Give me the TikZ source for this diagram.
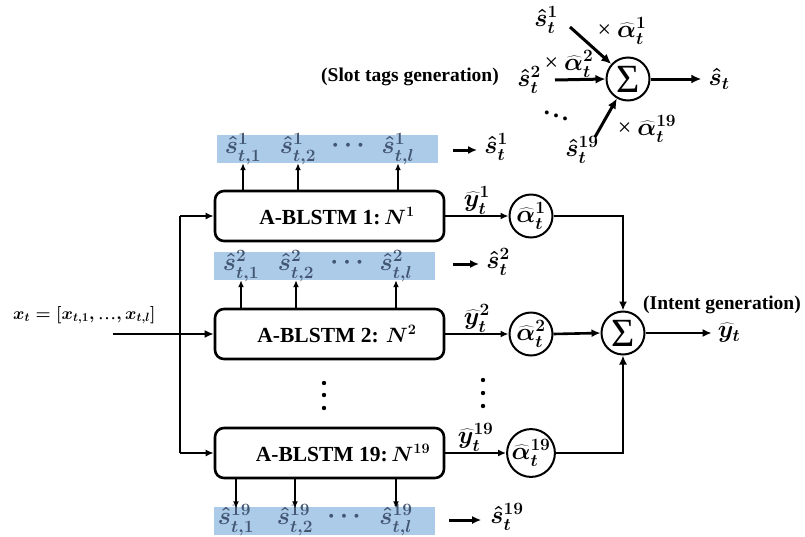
\documentclass[tikz,border=0pt]{standalone}
\usepackage{fontspec}
\setmainfont{Liberation Serif}
\usetikzlibrary{arrows.meta}
\definecolor{bandblue}{RGB}{172,203,233}
\definecolor{bandtext}{RGB}{66,86,114}
\newcommand{\mytimes}{{\mdseries ×}}
\newcommand{\mysig}{{\fontsize{40}{40}\selectfont\mdseries Σ}}
\newcommand{\myell}{\mbox{\mdseries …}}
\tikzset{
  blstm/.style={draw, line width=2.6pt, rounded corners=9pt, minimum width=229pt, minimum height=50pt, inner sep=0pt, font=\fontsize{21.5}{25}\selectfont\bfseries\boldmath},
  band/.style={fill=bandblue, minimum width=221pt, minimum height=28pt, inner sep=0pt},
  bitem/.style={text=bandtext, inner sep=1pt, font=\fontsize{24}{26}\selectfont\bfseries\boldmath},
  alph/.style={circle, draw, line width=2pt, minimum size=43pt, inner sep=0pt, font=\fontsize{23}{24}\selectfont\bfseries\boldmath},
  sig/.style={circle, draw, line width=2pt, minimum size=43pt, inner sep=0pt},
  lbl/.style={inner sep=1pt},
  mlbl/.style={inner sep=1pt, font=\fontsize{24}{26}\selectfont\bfseries\boldmath},
  yarr/.style={-{Latex[length=8pt,width=7pt]}, line width=1.8pt},
  uparr/.style={-{Latex[length=7pt,width=6pt]}, line width=1.8pt},
  thk/.style={line width=2.6pt},
  thkarr/.style={-{Latex[length=9pt,width=8pt]}, line width=2.6pt},
  topArr/.style={-{Latex[length=10pt,width=9pt]}, line width=3pt},
  outarr/.style={-{Latex[length=9pt,width=8pt]}, line width=3pt}
}
\begin{document}
\begin{tikzpicture}[x=1pt,y=-1pt, font=\fontsize{19.5}{23}\selectfont\bfseries\boldmath]
\useasboundingbox (0,0) rectangle (805,536);

% ---------- BLSTM boxes ----------
\node[blstm] (b1) at (329.5,216) {\hspace*{15pt}A-BLSTM 1:\,$N^{1}$};
\node[blstm] (b2) at (329.5,334) {\hspace*{15pt}A-BLSTM 2: $N^{2}$};
\node[blstm] (b19) at (329.5,453) {\hspace*{27pt}A-BLSTM 19:\,$N^{19}$};

% ---------- bands ----------
\node[band] (band1) at (327,149) {};
\node[bitem] (s11) at (243,149) {$\hat{s}^{1}_{t,1}$};
\node[bitem] (s12) at (298,149) {$\hat{s}^{1}_{t,2}$};
\node[bitem] (s1d) at (348,146) {$\cdots$};
\node[bitem] (s1l) at (398,149) {$\hat{s}^{1}_{t,l}$};

\node[band] (band2) at (324.5,266) {};
\node[bitem] (s21) at (241,266) {$\hat{s}^{2}_{t,1}$};
\node[bitem] (s22) at (296,266) {$\hat{s}^{2}_{t,2}$};
\node[bitem] (s2d) at (347,263) {$\cdots$};
\node[bitem] (s2l) at (396,266) {$\hat{s}^{2}_{t,l}$};

\node[band] (band19) at (324,520.5) {};
\node[bitem] (s191) at (236,520) {$\hat{s}^{19}_{t,1}$};
\node[bitem] (s192) at (295,520) {$\hat{s}^{19}_{t,2}$};
\node[bitem] (s19d) at (344,517) {$\cdots$};
\node[bitem] (s19l) at (396,520) {$\hat{s}^{19}_{t,l}$};

% arrows box -> band
\foreach \s in {s11,s12,s1l}
  \draw[uparr] (b1.north -| \s) -- (band1.south -| \s);
\foreach \s in {s21,s22,s2l}
  \draw[uparr] (b2.north -| \s) -- (band2.south -| \s);
\foreach \s in {s191,s192,s19l}
  \draw[uparr] (b19.south -| \s) -- ([yshift=-2pt]band19.north -| \s);

% band outputs
\node[mlbl] (o1) at (496,147) {$\hat{s}^{1}_{t}$};
\node[mlbl] (o2) at (498,262) {$\hat{s}^{2}_{t}$};
\node[mlbl] (o19) at (507,517) {$\hat{s}^{19}_{t}$};
\coordinate (c1) at (453,150);
\coordinate (c2) at (453,264);
\coordinate (c19) at (449,520);
\draw[outarr] (c1) -- ([xshift=-6pt]o1.west |- c1);
\draw[outarr] (c2) -- ([xshift=-6pt]o2.west |- c2);
\draw[outarr] (c19) -- ([xshift=-8pt]o19.west |- c19);

% ---------- input ----------
\node[lbl, anchor=west, font=\fontsize{18.5}{22}\selectfont\bfseries\boldmath] (xt) at (12,315) {$x_t=[x_{t,1}{,}\,\myell{,}\,x_{t,l}]$};
\coordinate (xin) at (113,334);
\coordinate (jt) at (180,216);
\coordinate (jb) at (180,453);
\draw[thk] (jt) -- (jb);
\draw[thkarr] (xin) -- (b2.west);
\draw[yarr] (jt) -- (b1.west);
\draw[yarr] (jb) -- (b19.west);

% vertical dots
\foreach \yy in {383,395,408} \fill (324,\yy) circle (2.2pt);
\foreach \yy in {380,393,406} \fill (483,\yy) circle (2.2pt);

% ---------- alpha nodes ----------
\node[alph] (a1) at (531,216) {$\widehat{\alpha}^{1}_{t}$};
\node[alph] (a2) at (531,334) {$\widehat{\alpha}^{2}_{t}$};
\node[alph] (a19) at (531,453) {$\widehat{\alpha}^{19}_{t}$};
\draw[yarr] (b1.east) -- node[above=0pt, mlbl] (y1) {$\widehat{y}^{1}_{t}$} (a1.west);
\draw[yarr] (b2.east) -- node[above=0pt, mlbl] (y2) {$\widehat{y}^{2}_{t}$} (a2.west);
\draw[yarr] (b19.east) -- node[above=0pt, mlbl] (y19) {$\widehat{y}^{19}_{t}$} (a19.west);

% ---------- intent sum ----------
\node[sig] (sigI) at (623,333) {\mysig};
\draw[thkarr] (a1.east) -| (sigI.north);
\draw[thkarr] (a19.east) -| (sigI.south);
\draw[thkarr] (a2.east) -- (sigI.west);
\node[mlbl] (yt) at (729,333) {$\widehat{y}_{t}$};
\draw[thkarr] (sigI.east) -- ([xshift=-5pt]yt.west);
\node[lbl] (intent) at (722,305) {(Intent generation)};

% ---------- slot sum ----------
\node[sig] (sigT) at (628,79) {\mysig};
\node[mlbl] (in1) at (546,20) {$\hat{s}^{1}_{t}$};
\node[mlbl] (in2) at (529,80) {$\hat{s}^{2}_{t}$};
\node[mlbl] (in19) at (582,150) {$\hat{s}^{19}_{t}$};
\coordinate (e1) at (570,27);
\coordinate (e2) at (555,80);
\coordinate (e19) at (595,137);
\draw[topArr] (e1) -- (sigT);
\draw[topArr] (e2) -- (sigT.west);
\draw[topArr] (e19) -- (sigT);
\node[mlbl] (st) at (719,79) {$\hat{s}_{t}$};
\draw[topArr] (sigT.east) -- ([xshift=-6pt]st.west);
\node[mlbl] (m1) at (622,31) {\mytimes\ $\widehat{\alpha}^{1}_{t}$};
\node[mlbl] (m2) at (569,64) {\mytimes\ $\widehat{\alpha}^{2}_{t}$};
\node[mlbl] (m19) at (647,129) {\mytimes\ $\widehat{\alpha}^{19}_{t}$};
\node[mlbl] (dd) at (556,113) {$\ddots$};
\node[lbl] (slot) at (410,77) {(Slot tags generation)};
\end{tikzpicture}
\end{document}
